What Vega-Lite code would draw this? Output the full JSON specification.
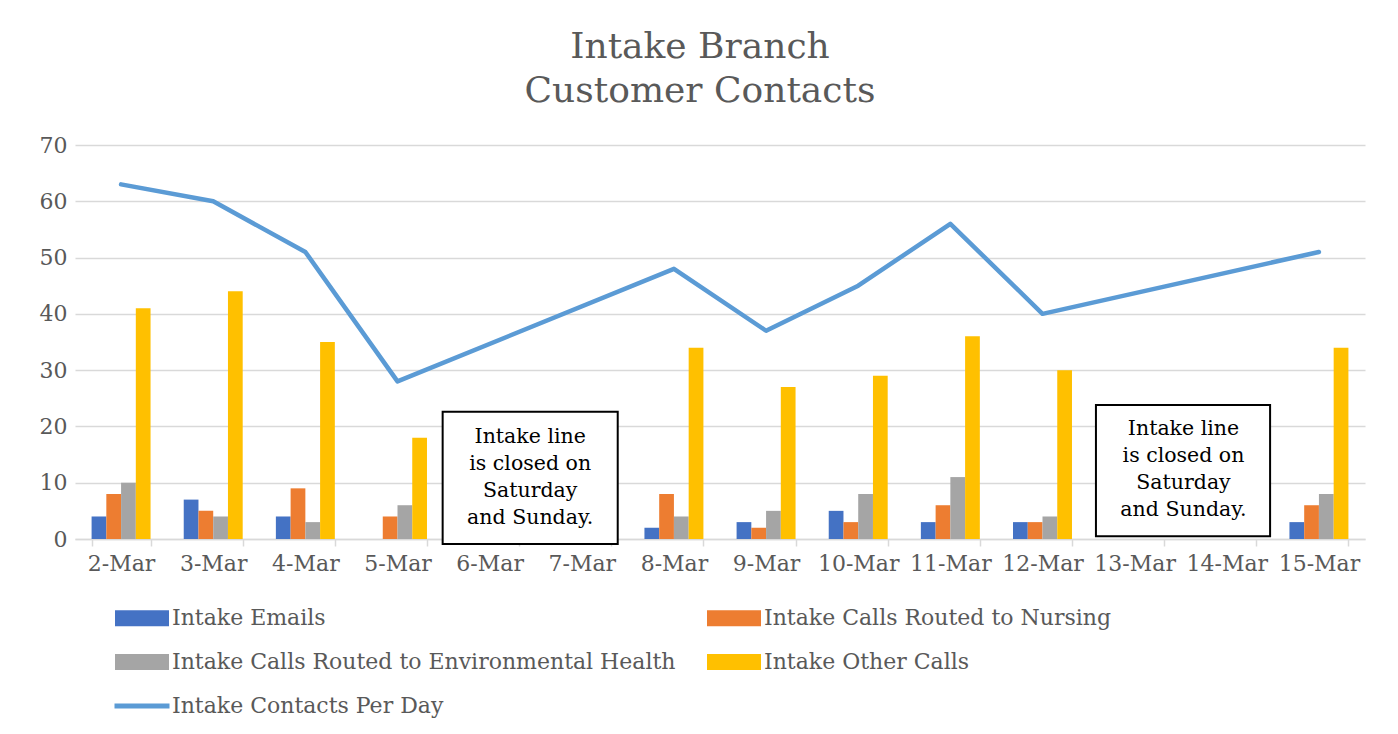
{
  "$schema": "https://vega.github.io/schema/vega-lite/v6.json",
  "width": 1290,
  "height": 394,
  "autosize": {"type": "none"},
  "padding": {"left": 75, "top": 145, "right": 33, "bottom": 195},
  "background": "white",
  "title": {
    "text": ["Intake Branch", "Customer Contacts"],
    "font": "DejaVu Serif",
    "fontSize": 36,
    "fontWeight": "normal",
    "color": "#595959",
    "anchor": "middle",
    "dx": -20,
    "offset": 24,
    "lineHeight": 44
  },
  "datasets": {
    "bars": [
      {"date": "2-Mar", "series": "Intake Emails", "value": 4},
      {"date": "2-Mar", "series": "Intake Calls Routed to Nursing", "value": 8},
      {"date": "2-Mar", "series": "Intake Calls Routed to Environmental Health", "value": 10},
      {"date": "2-Mar", "series": "Intake Other Calls", "value": 41},
      {"date": "3-Mar", "series": "Intake Emails", "value": 7},
      {"date": "3-Mar", "series": "Intake Calls Routed to Nursing", "value": 5},
      {"date": "3-Mar", "series": "Intake Calls Routed to Environmental Health", "value": 4},
      {"date": "3-Mar", "series": "Intake Other Calls", "value": 44},
      {"date": "4-Mar", "series": "Intake Emails", "value": 4},
      {"date": "4-Mar", "series": "Intake Calls Routed to Nursing", "value": 9},
      {"date": "4-Mar", "series": "Intake Calls Routed to Environmental Health", "value": 3},
      {"date": "4-Mar", "series": "Intake Other Calls", "value": 35},
      {"date": "5-Mar", "series": "Intake Emails", "value": 0},
      {"date": "5-Mar", "series": "Intake Calls Routed to Nursing", "value": 4},
      {"date": "5-Mar", "series": "Intake Calls Routed to Environmental Health", "value": 6},
      {"date": "5-Mar", "series": "Intake Other Calls", "value": 18},
      {"date": "8-Mar", "series": "Intake Emails", "value": 2},
      {"date": "8-Mar", "series": "Intake Calls Routed to Nursing", "value": 8},
      {"date": "8-Mar", "series": "Intake Calls Routed to Environmental Health", "value": 4},
      {"date": "8-Mar", "series": "Intake Other Calls", "value": 34},
      {"date": "9-Mar", "series": "Intake Emails", "value": 3},
      {"date": "9-Mar", "series": "Intake Calls Routed to Nursing", "value": 2},
      {"date": "9-Mar", "series": "Intake Calls Routed to Environmental Health", "value": 5},
      {"date": "9-Mar", "series": "Intake Other Calls", "value": 27},
      {"date": "10-Mar", "series": "Intake Emails", "value": 5},
      {"date": "10-Mar", "series": "Intake Calls Routed to Nursing", "value": 3},
      {"date": "10-Mar", "series": "Intake Calls Routed to Environmental Health", "value": 8},
      {"date": "10-Mar", "series": "Intake Other Calls", "value": 29},
      {"date": "11-Mar", "series": "Intake Emails", "value": 3},
      {"date": "11-Mar", "series": "Intake Calls Routed to Nursing", "value": 6},
      {"date": "11-Mar", "series": "Intake Calls Routed to Environmental Health", "value": 11},
      {"date": "11-Mar", "series": "Intake Other Calls", "value": 36},
      {"date": "12-Mar", "series": "Intake Emails", "value": 3},
      {"date": "12-Mar", "series": "Intake Calls Routed to Nursing", "value": 3},
      {"date": "12-Mar", "series": "Intake Calls Routed to Environmental Health", "value": 4},
      {"date": "12-Mar", "series": "Intake Other Calls", "value": 30},
      {"date": "15-Mar", "series": "Intake Emails", "value": 3},
      {"date": "15-Mar", "series": "Intake Calls Routed to Nursing", "value": 6},
      {"date": "15-Mar", "series": "Intake Calls Routed to Environmental Health", "value": 8},
      {"date": "15-Mar", "series": "Intake Other Calls", "value": 34}
    ],
    "line": [
      {"date": "2-Mar", "name": "Intake Contacts Per Day", "total": 63},
      {"date": "3-Mar", "name": "Intake Contacts Per Day", "total": 60},
      {"date": "4-Mar", "name": "Intake Contacts Per Day", "total": 51},
      {"date": "5-Mar", "name": "Intake Contacts Per Day", "total": 28},
      {"date": "8-Mar", "name": "Intake Contacts Per Day", "total": 48},
      {"date": "9-Mar", "name": "Intake Contacts Per Day", "total": 37},
      {"date": "10-Mar", "name": "Intake Contacts Per Day", "total": 45},
      {"date": "11-Mar", "name": "Intake Contacts Per Day", "total": 56},
      {"date": "12-Mar", "name": "Intake Contacts Per Day", "total": 40},
      {"date": "15-Mar", "name": "Intake Contacts Per Day", "total": 51}
    ],
    "notes": [
      {"x1": 3.99, "x2": 5.89, "y1": -0.9, "y2": 22.6, "xc": 4.94, "yc": 18.1, "label": "Intake line\nis closed on\nSaturday\nand Sunday."},
      {"x1": 11.08, "x2": 12.97, "y1": 0.5, "y2": 23.8, "xc": 12.03, "yc": 19.5, "label": "Intake line\nis closed on\nSaturday\nand Sunday."}
    ]
  },
  "layer": [
    {
      "layer": [
        {
          "data": {"name": "bars"},
          "mark": {"type": "bar"},
          "encoding": {
            "x": {
              "field": "date",
              "type": "nominal",
              "sort": ["2-Mar", "3-Mar", "4-Mar", "5-Mar", "6-Mar", "7-Mar", "8-Mar", "9-Mar", "10-Mar", "11-Mar", "12-Mar", "13-Mar", "14-Mar", "15-Mar"],
              "scale": {
                "domain": ["2-Mar", "3-Mar", "4-Mar", "5-Mar", "6-Mar", "7-Mar", "8-Mar", "9-Mar", "10-Mar", "11-Mar", "12-Mar", "13-Mar", "14-Mar", "15-Mar"],
                "paddingInner": 0.36,
                "paddingOuter": 0.18
              },
              "axis": {
                "title": null,
                "labelAngle": 0,
                "tickBand": "extent",
                "ticks": true,
                "tickSize": 7,
                "tickWidth": 1.5,
                "domain": true,
                "domainWidth": 1.5,
                "grid": false,
                "labelPadding": 7
              }
            },
            "xOffset": {
              "field": "series",
              "type": "nominal",
              "sort": ["Intake Emails", "Intake Calls Routed to Nursing", "Intake Calls Routed to Environmental Health", "Intake Other Calls"],
              "scale": {"paddingInner": 0, "paddingOuter": 0}
            },
            "y": {
              "field": "value",
              "type": "quantitative",
              "scale": {"domain": [0, 70], "nice": false},
              "axis": {
                "title": null,
                "grid": true,
                "domain": false,
                "ticks": false,
                "values": [0, 10, 20, 30, 40, 50, 60, 70],
                "labelPadding": 8,
                "gridWidth": 1.5
              }
            },
            "color": {
              "field": "series",
              "type": "nominal",
              "scale": {
                "domain": ["Intake Emails", "Intake Calls Routed to Environmental Health", "Intake Calls Routed to Nursing", "Intake Other Calls"],
                "range": ["#4472C4", "#A5A5A5", "#ED7D31", "#FFC000"]
              },
              "legend": {
                "orient": "none",
                "legendX": 53.5,
                "legendY": 459.5,
                "columns": 2,
                "title": null,
                "symbolType": "M-2,-0.6H2V0.6H-2Z",
                "symbolSize": 729,
                "symbolStrokeWidth": 0,
                "labelFont": "DejaVu Serif",
                "labelFontSize": 22,
                "labelColor": "#595959",
                "labelOffset": 16.5,
                "rowPadding": 19,
                "columnPadding": 31,
                "labelLimit": 700
              }
            }
          }
        },
        {
          "data": {"name": "line"},
          "mark": {"type": "line", "strokeWidth": 4.5, "strokeCap": "round", "strokeJoin": "round"},
          "encoding": {
            "x": {
              "field": "date",
              "type": "nominal",
              "sort": ["2-Mar", "3-Mar", "4-Mar", "5-Mar", "6-Mar", "7-Mar", "8-Mar", "9-Mar", "10-Mar", "11-Mar", "12-Mar", "13-Mar", "14-Mar", "15-Mar"]
            },
            "y": {"field": "total", "type": "quantitative"},
            "stroke": {
              "field": "name",
              "type": "nominal",
              "scale": {"domain": ["Intake Contacts Per Day"], "range": ["#5B9BD5"]},
              "legend": {
                "orient": "none",
                "legendX": 37,
                "legendY": 531,
                "title": null,
                "symbolType": "stroke",
                "symbolSize": 3025,
                "symbolStrokeWidth": 5,
                "labelFont": "DejaVu Serif",
                "labelFontSize": 22,
                "labelColor": "#595959",
                "labelOffset": 0,
                "labelLimit": 700
              }
            }
          }
        }
      ]
    },
    {
      "data": {"name": "notes"},
      "layer": [
        {
          "mark": {"type": "rect", "fill": "white", "stroke": "black", "strokeWidth": 2},
          "encoding": {
            "x": {"field": "x1", "type": "quantitative", "scale": {"domain": [0, 14], "nice": false, "zero": false}, "axis": null},
            "x2": {"field": "x2"},
            "y": {"field": "y1", "type": "quantitative", "scale": {"domain": [0, 70], "nice": false}, "axis": null},
            "y2": {"field": "y2"}
          }
        },
        {
          "mark": {"type": "text", "font": "DejaVu Serif", "fontSize": 20.5, "lineHeight": 27, "lineBreak": "\n", "color": "black", "align": "center", "baseline": "middle"},
          "encoding": {
            "x": {"field": "xc", "type": "quantitative", "scale": {"domain": [0, 14], "nice": false, "zero": false}, "axis": null},
            "y": {"field": "yc", "type": "quantitative", "scale": {"domain": [0, 70], "nice": false}, "axis": null},
            "text": {"field": "label"}
          }
        }
      ]
    }
  ],
  "resolve": {"scale": {"x": "independent", "y": "independent"}},
  "config": {
    "view": {"stroke": null},
    "axis": {
      "labelFont": "DejaVu Serif",
      "labelFontSize": 22,
      "labelColor": "#595959",
      "gridColor": "#d9d9d9",
      "domainColor": "#d9d9d9",
      "tickColor": "#d9d9d9"
    }
  }
}
